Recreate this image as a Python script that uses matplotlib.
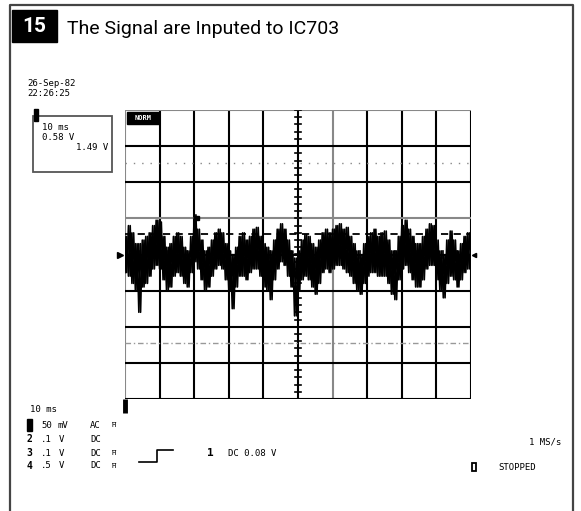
import numpy as np
import matplotlib
matplotlib.use("Agg")
import matplotlib.pyplot as plt
from matplotlib.patches import Rectangle

# ---- data (scope divisions; x 0..10, y -4..4) ----
trace_x = [i / 10 for i in range(101)]
trace_upper = [
    0.5, 0.8, 0.6, 0.3, 0.3, 0.4, 0.5, 0.6, 0.8, 0.95,
    0.9, 0.5, 0.2, 0.3, 0.5, 0.6, 0.5, 0.2, 0.1, 0.5,
    1.1, 0.7, 0.4, 0.1, 0.2, 0.4, 0.6, 0.7, 0.6, 0.3,
    0.1, 0.0, 0.2, 0.5, 0.6, 0.4, 0.5, 0.7, 0.75, 0.5,
    0.3, 0.2, 0.1, 0.4, 0.7, 0.85, 0.7, 0.4, 0.1, -0.1,
    0.1, 0.4, 0.55, 0.5, 0.3, 0.2, 0.4, 0.6, 0.7, 0.6,
    0.7, 0.8, 0.85, 0.7, 0.75, 0.5, 0.3, 0.1, 0.0, 0.3,
    0.5, 0.6, 0.7, 0.5, 0.6, 0.65, 0.4, 0.1, 0.1, 0.5,
    0.8, 0.95, 0.7, 0.5, 0.3, 0.3, 0.5, 0.7, 0.85, 0.8,
    0.4, 0.1, 0.0, 0.4, 0.65, 0.4, 0.1, 0.3, 0.5, 0.6,
    0.3,
]
trace_lower = [
    -0.5, -0.6, -0.8, -1.0, -1.6, -0.9, -0.8, -0.6, -0.4, -0.3,
    -0.4, -0.7, -1.0, -0.9, -0.6, -0.5, -0.6, -0.8, -0.9, -0.5,
    -0.2, -0.4, -0.7, -1.0, -0.9, -0.6, -0.4, -0.3, -0.4, -0.7,
    -1.0, -1.5, -0.9, -0.6, -0.6, -0.7, -0.5, -0.4, -0.4, -0.6,
    -0.9, -1.0, -1.25, -0.7, -0.4, -0.2, -0.3, -0.6, -0.9, -1.7,
    -1.0, -0.7, -0.6, -0.7, -0.9, -1.1, -0.8, -0.5, -0.4, -0.5,
    -0.4, -0.3, -0.3, -0.4, -0.5, -0.6, -0.8, -1.0, -1.1, -0.8,
    -0.6, -0.5, -0.5, -0.6, -0.6, -0.6, -0.8, -1.1, -1.25, -0.7,
    -0.4, -0.3, -0.5, -0.7, -0.9, -0.9, -0.7, -0.4, -0.3, -0.3,
    -0.7, -1.0, -1.2, -0.8, -0.6, -0.7, -0.9, -0.7, -0.5, -0.4,
    -0.3,
]
cursor_dotted = 2.52
cursor_dashed = 0.58
ref_dashdot = -2.44

title = "The Signal are Inputed to IC703"
badge = "15"
date_lines = ["26-Sep-82", "22:26:25"]
cursor_box = ["10 ms", "0.58 V", "1.49 V"]
timebase = "10 ms"
ch_num = ["", "2", "3", "4"]
ch_scale = ["50", ".1", ".1", ".5"]
ch_unit = ["mV", "V", "V", "V"]
ch_coupling = ["AC", "DC", "DC", "DC"]
ch_bwl = [True, False, True, True]
trigger_text = "DC 0.08 V"
sample_rate = "1 MS/s"
status = "STOPPED"

W, H = 581, 511
fig = plt.figure(figsize=(W / 100, H / 100), dpi=100)

# overlay in pixel coordinates for the page decorations
page = fig.add_axes([0, 0, 1, 1])
page.set_xlim(0, W)
page.set_ylim(H, 0)
page.axis("off")

sans = ["Roboto", "DejaVu Sans"]
mono = ["DejaVu Sans Mono"]

# frame
page.plot([10, 10, 573, 573], [H, 5, 5, H], color="#444444", lw=1.6)
page.add_patch(Rectangle((12, 10), 45, 32, color="black"))
page.text(34, 27, badge, color="white", fontsize=15, fontweight="bold",
          family=sans, ha="center", va="center")
page.text(67, 34, title, fontsize=14, family=sans, color="black",
          ha="left", va="baseline")

# date/time
for i, s in enumerate(date_lines):
    page.text(27, 83 + i * 11, s, fontsize=6.5, family=mono, va="center")

# cursor readout box
page.add_patch(Rectangle((33, 116), 79, 56, fill=False, ec="#555555", lw=1.3))
page.add_patch(Rectangle((34, 109), 4, 12, color="black"))
page.text(42, 128, cursor_box[0], fontsize=6.5, family=mono, va="center")
page.text(42, 138, cursor_box[1], fontsize=6.5, family=mono, va="center")
page.text(108, 148, cursor_box[2], fontsize=6.5, family=mono, va="center", ha="right")

# channel settings
page.text(30, 409, timebase, fontsize=6.5, family=mono, va="center")
row_y = [425, 439, 453, 466]
page.add_patch(Rectangle((27, 419), 5, 12, color="black"))
for i, y in enumerate(row_y):
    if ch_num[i]:
        page.text(29.5, y, ch_num[i], fontsize=7, family=mono, fontweight="bold",
                  va="center", ha="center")
    page.text(41, y, ch_scale[i], fontsize=6.5, family=mono, va="center")
    page.text(57 if ch_unit[i] == "mV" else 59, y, ch_unit[i], fontsize=6.5,
              family=mono, va="center")
    page.text(90, y, ch_coupling[i], fontsize=6.5, family=mono, va="center")
    if ch_bwl[i]:
        page.text(114, y, "Ħ", fontsize=5, family=mono, va="center", ha="center")

# trigger symbol and level
page.plot([139, 157, 157, 173], [462, 462, 450, 450], color="black", lw=1.2)
page.text(210, 453, "1", fontsize=8, family=mono, fontweight="bold", va="center", ha="center")
page.text(228, 453, trigger_text, fontsize=6.5, family=mono, va="center")
page.text(561, 442, sample_rate, fontsize=6.5, family=mono, va="center", ha="right")
page.add_patch(Rectangle((472, 463), 4, 8, fill=False, ec="black", lw=1.3))
page.text(498, 467, status, fontsize=6.5, family=mono, va="center")

# ---- scope graticule ----
x0, y0, x1, y1 = 125, 110, 471, 399
ax = fig.add_axes([x0 / W, 1 - y1 / H, (x1 - x0) / W, (y1 - y0) / H])
ax.set_xlim(0, 10)
ax.set_ylim(-4, 4)
ax.axis("off")

gray_v = {0, 6}
gray_h = {4, 1}
for v in range(11):
    ax.axvline(v, color="#888888" if v in gray_v else "black", lw=1.5, zorder=1)
for h in range(-4, 5):
    ax.axhline(h, color="#888888" if h in gray_h else "black", lw=1.5, zorder=1)

# centre-line minor ticks
for t in np.arange(-4, 4.01, 0.2):
    ax.plot([4.9, 5.1], [t, t], color="black", lw=1.2, zorder=1)
for t in np.arange(0, 10.01, 0.2):
    ax.plot([t, t], [-0.1, 0.1], color="black", lw=1.2, zorder=1)

ax.axhline(cursor_dotted, color="#888888", lw=1.0, dashes=(1, 5), zorder=2)
ax.axhline(cursor_dashed, color="black", lw=1.3, dashes=(4, 3), zorder=2)
ax.axhline(ref_dashdot, color="#999999", lw=1.0, dashes=(4, 2, 1, 2), zorder=2)

# trace: cross-interleave the envelope samples to get the dense noise band
ax_a, ay_a, ax_b, ay_b = [], [], [], []
for i, x in enumerate(trace_x):
    ax_a += [x, x + 0.05]
    ay_a += [trace_upper[i], trace_lower[i]]
    ax_b += [x, x + 0.05]
    ay_b += [trace_lower[i], trace_upper[i]]
ax_a[-1] = ax_b[-1] = trace_x[-1]
ax.plot(ax_a, ay_a, color="black", lw=1.2, zorder=3)
ax.plot(ax_b, ay_b, color="black", lw=1.2, zorder=3)

# markers around the graticule
ax.plot([-0.15], [0], marker=">", color="black", ms=4, clip_on=False)
ax.plot([10.08], [0], marker="<", color="black", ms=3, clip_on=False)
ax.plot([0, 0], [-4, -4.38], color="black", lw=3.5, clip_on=False, solid_capstyle="butt")
ax.plot([2.08], [1.0], marker="s", color="black", ms=3)

# NORM badge
page.add_patch(Rectangle((127, 112), 32, 12, color="black", zorder=5))
page.text(143, 118, "NORM", color="white", fontsize=5, family=mono, fontweight="bold",
          ha="center", va="center", zorder=6)
page.set_zorder(ax.get_zorder() + 1)
page.patch.set_visible(False)

fig.savefig("out.png", dpi=100)
